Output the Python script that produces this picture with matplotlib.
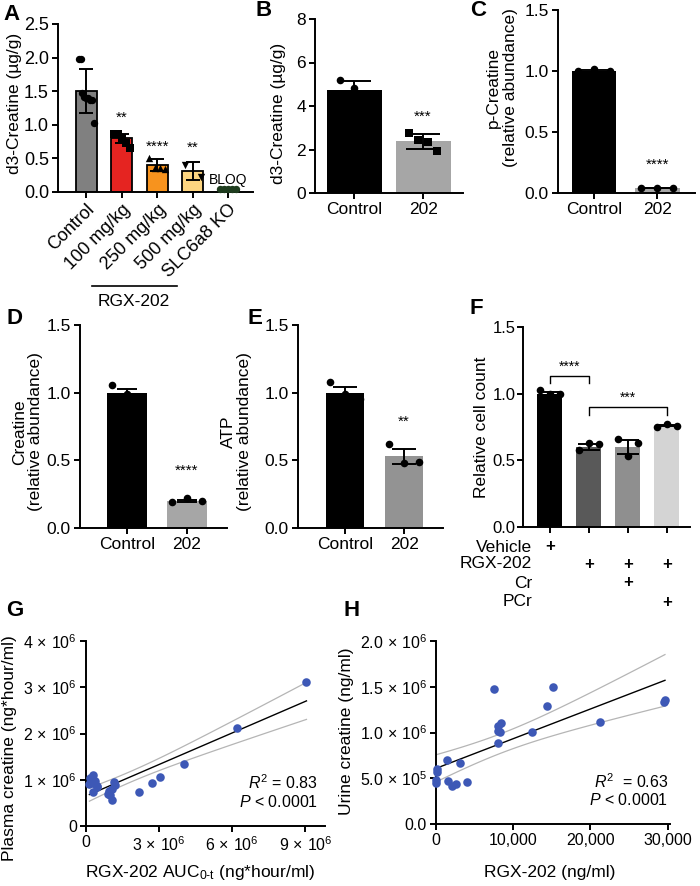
import numpy as np
import matplotlib
matplotlib.use("Agg")
import matplotlib.pyplot as plt
from matplotlib.transforms import blended_transform_factory

plt.rcParams['font.family'] = ['Liberation Sans', 'DejaVu Sans']
plt.rcParams['mathtext.fontset'] = 'custom'
plt.rcParams['mathtext.rm'] = 'Liberation Sans'
plt.rcParams['mathtext.it'] = 'Liberation Sans:italic'
plt.rcParams['mathtext.bf'] = 'Liberation Sans:bold'
plt.rcParams['axes.linewidth'] = 1.4

# ---------------- data ----------------
a_cats = ['Control', '100 mg/kg', '250 mg/kg', '500 mg/kg', 'SLC6a8 KO']
a_means = [1.50, 0.80, 0.40, 0.31, 0.03]
a_sd = [0.33, 0.07, 0.09, 0.13, 0.0]
a_points = [[1.98, 1.98, 1.47, 1.41, 1.40, 1.40, 1.37, 1.37, 1.02],
            [0.87, 0.86, 0.80, 0.73, 0.66],
            [0.51, 0.36, 0.35, 0.34],
            [0.40, 0.22],
            [0.05, 0.05, 0.05, 0.05, 0.05]]
a_stars = ['', '**', '****', '**', '']
a_star_y = [0, 1.10, 0.68, 0.66, 0]

b_cats = ['Control', '202']
b_means = [4.75, 2.38]
b_sd = [0.40, 0.34]
b_points = [[5.18, 4.85, 4.22], [2.75, 2.45, 2.35, 1.95]]
b_stars = ['', '***']
b_star_y = [0, 3.5]

c_cats = ['Control', '202']
c_means = [1.0, 0.04]
c_err = [0.01, 0.0]
c_points = [[1.0, 1.02, 1.0], [0.04, 0.04, 0.04]]
c_stars = ['', '****']
c_star_y = [0, 0.23]

d_cats = ['Control', '202']
d_means = [1.0, 0.20]
d_err = [0.03, 0.01]
d_points = [[1.06, 0.99, 0.96], [0.19, 0.22, 0.20]]
d_stars = ['', '****']
d_star_y = [0, 0.42]

e_cats = ['Control', '202']
e_means = [1.0, 0.53]
e_err = [0.045, 0.055]
e_points = [[1.08, 0.99, 0.95], [0.62, 0.48, 0.49]]
e_stars = ['', '**']
e_star_y = [0, 0.785]

f_means = [1.0, 0.60, 0.60, 0.76]
f_err = [0.01, 0.02, 0.05, 0.005]
f_points = [[1.03, 1.0, 1.0], [0.58, 0.63, 0.62], [0.66, 0.53, 0.63], [0.75, 0.77, 0.76]]
f_rows = ['Vehicle', 'RGX-202', 'Cr', 'PCr']
f_flags = [[1, 0, 0, 0], [0, 1, 1, 1], [0, 0, 1, 0], [0, 0, 0, 1]]

g_x = np.array([0.30, 0.16, 0.37, 0.14, 0.27, 0.44, 0.30, 0.47, 1.15, 1.19, 1.05,
                0.96, 0.92, 0.99, 1.08, 2.17, 2.71, 3.05, 4.03, 6.19, 9.04]) * 1e6
g_y = np.array([1.10, 1.03, 0.98, 0.91, 0.93, 0.86, 0.73, 0.85, 0.96, 0.89, 0.81,
                0.76, 0.70, 0.67, 0.57, 0.73, 0.94, 1.06, 1.33, 2.11, 3.11]) * 1e6

h_x = np.array([7540, 15170, 14310, 29650, 29570, 21240, 12370, 8400, 8060, 7980, 8280,
                8060, 1380, 3100, 170, 90, 0, 0, 1590, 2030, 2550, 4050], dtype=float)
h_y = np.array([1.47, 1.50, 1.295, 1.357, 1.335, 1.116, 1.006, 1.105, 1.068, 1.02, 1.002,
                0.886, 0.695, 0.666, 0.60, 0.563, 0.483, 0.447, 0.472, 0.417, 0.436, 0.458]) * 1e6

# ---------------- layout helpers ----------------
W, H = 700, 886
fig = plt.figure(figsize=(7, 8.86), dpi=100)


def ax_at(l, r, t, b):
    return fig.add_axes([l / W, 1 - b / H, (r - l) / W, (b - t) / H])


def ftext(x, y, s, **kw):
    return fig.text(x / W, 1 - y / H, s, **kw)


def style(ax, ls=12):
    for s in ['top', 'right']:
        ax.spines[s].set_visible(False)
    ax.tick_params(direction='out', length=4.5, width=1.4, labelsize=ls, pad=2)


def bar_panel(ax, means, errs, points, colors, width, markers, capsize,
              edge=None, edgelw=0, spread=0.2, ms=30, ptcolors=None, stars=None,
              star_y=None, star_fs=11):
    x = np.arange(len(means))
    ax.bar(x, means, width=width, color=colors,
           edgecolor=edge if edge else colors, linewidth=edgelw, zorder=1)
    ax.errorbar(x, means, yerr=errs, fmt='none', ecolor='black', elinewidth=1.4,
                capsize=capsize, capthick=1.4, zorder=2)
    for i, pts in enumerate(points):
        n = len(pts)
        off = np.linspace(-spread, spread, n) if n > 1 else np.array([0.0])
        pc = ptcolors[i] if ptcolors else 'black'
        ax.scatter(x[i] + off, pts, s=ms, marker=markers[i], c=pc, zorder=3,
                   clip_on=False, linewidths=0)
    if stars:
        for i, st in enumerate(stars):
            if st:
                ax.text(x[i], star_y[i], st, ha='center', va='center', fontsize=star_fs)
    ax.set_xticks(x)


def sci(m, e):
    return r'$%s\,\times\,10^{%d}$' % (m, e)


# ---------------- Panel A ----------------
axA = ax_at(58, 253, 24, 192)
style(axA, ls=13)
bar_panel(axA, a_means, a_sd, a_points,
          ['#808080', '#e52421', '#f7931e', '#fdd580', '#3a6b35'], 0.6,
          ['o', 's', '^', 'v', 'o'], 5, edge='black', edgelw=1.3, spread=0.22,
          ms=28, ptcolors=['black', 'black', 'black', 'black', '#1f3d1f'],
          stars=a_stars, star_y=a_star_y)
axA.set_xlim(-0.8, 4.7)
axA.set_ylim(0, 2.5)
axA.set_yticks([0, 0.5, 1.0, 1.5, 2.0, 2.5])
axA.set_yticklabels(['0.0', '0.5', '1.0', '1.5', '2.0', '2.5'])
axA.set_xticklabels(a_cats, rotation=45, ha='right', rotation_mode='anchor')
axA.text(4, 0.18, 'BLOQ', ha='center', va='center', fontsize=10)
ftext(15, 103, 'd3-Creatine (\u00b5g/g)', rotation=90, ha='center', va='center', fontsize=12.5)
fig.add_artist(plt.Line2D([92 / W, 177 / W], [1 - 286 / H, 1 - 286 / H], color='black', lw=1.2))
ftext(134, 302, 'RGX-202', ha='center', va='center', fontsize=12.5)
ftext(12, 14, 'A', ha='center', va='center', fontsize=16, fontweight='bold')

# ---------------- Panel B ----------------
axB = ax_at(315, 463, 19, 193)
style(axB, ls=12.5)
bar_panel(axB, b_means, b_sd, b_points, ['black', '#a6a6a6'], 0.8, ['o', 's'], 12,
          spread=0.2, stars=b_stars, star_y=b_star_y)
axB.set_xlim(-0.57, 1.58)
axB.set_ylim(0, 8)
axB.set_yticks([0, 2, 4, 6, 8])
axB.set_xticklabels(b_cats)
ftext(278, 113, 'd3-Creatine (\u00b5g/g)', rotation=90, ha='center', va='center', fontsize=12.5)
ftext(264, 11, 'B', ha='center', va='center', fontsize=16, fontweight='bold')

# ---------------- Panel C ----------------
axC = ax_at(558, 695, 10, 193)
style(axC, ls=12.5)
bar_panel(axC, c_means, c_err, c_points, ['black', '#a6a6a6'], 0.71, ['o', 'o'], 10,
          spread=0.25, stars=c_stars, star_y=c_star_y)
axC.set_xlim(-0.57, 1.6)
axC.set_ylim(0, 1.5)
axC.set_yticks([0, 0.5, 1.0, 1.5])
axC.set_yticklabels(['0.0', '0.5', '1.0', '1.5'])
axC.set_xticklabels(c_cats)
ftext(502, 88, 'p-Creatine\n(relative abundance)', rotation=90, ha='center', va='center',
      fontsize=12.5, linespacing=1.1)
ftext(478, 11, 'C', ha='center', va='center', fontsize=16, fontweight='bold')

# ---------------- Panel D ----------------
axD = ax_at(80, 227, 325, 528)
style(axD, ls=12.5)
bar_panel(axD, d_means, d_err, d_points, ['black', '#a6a6a6'], 0.67, ['o', 'o'], 7.5,
          spread=0.25, stars=d_stars, star_y=d_star_y)
axD.set_xlim(-0.78, 1.67)
axD.set_ylim(0, 1.5)
axD.set_yticks([0, 0.5, 1.0, 1.5])
axD.set_yticklabels(['0.0', '0.5', '1.0', '1.5'])
axD.set_xticklabels(d_cats)
ftext(27.5, 432, 'Creatine\n(relative abundance)', rotation=90, ha='center', va='center',
      fontsize=12.5, linespacing=1.1)
ftext(14, 318, 'D', ha='center', va='center', fontsize=16, fontweight='bold')

# ---------------- Panel E ----------------
axE = ax_at(298, 443, 325, 528)
style(axE, ls=12.5)
bar_panel(axE, e_means, e_err, e_points, ['black', '#939393'], 0.64, ['o', 'o'], 8.5,
          spread=0.25, stars=e_stars, star_y=e_star_y)
axE.set_xlim(-0.8, 1.66)
axE.set_ylim(0, 1.5)
axE.set_yticks([0, 0.5, 1.0, 1.5])
axE.set_yticklabels(['0.0', '0.5', '1.0', '1.5'])
axE.set_xticklabels(e_cats)
ftext(236.5, 432, 'ATP\n(relative abundance)', rotation=90, ha='center', va='center',
      fontsize=12.5, linespacing=1.1)
ftext(255, 318, 'E', ha='center', va='center', fontsize=16, fontweight='bold')

# ---------------- Panel F ----------------
axF = ax_at(523, 690, 327, 527)
style(axF, ls=12)
axF.tick_params(axis='y', length=4, pad=1.5)
bar_panel(axF, f_means, f_err, f_points, ['black', '#595959', '#8f8f8f', '#d4d4d4'], 0.64,
          ['o', 'o', 'o', 'o'], 8, spread=0.25)
axF.set_xlim(-0.69, 3.59)
axF.set_ylim(0, 1.5)
axF.set_yticks([0, 0.5, 1.0, 1.5])
axF.set_yticklabels(['0.0', '0.5', '1.0', '1.5'])
axF.set_xticklabels([])
# brackets
axF.plot([0, 0, 1, 1], [1.08, 1.135, 1.135, 1.08], color='black', lw=1.0, clip_on=False)
axF.text(0.5, 1.2, '****', ha='center', va='center', fontsize=10)
axF.plot([1, 1, 3, 3], [0.84, 0.90, 0.90, 0.84], color='black', lw=1.0, clip_on=False)
axF.text(2.0, 0.97, '***', ha='center', va='center', fontsize=10)
trF = blended_transform_factory(axF.transData, fig.transFigure)
row_y = [547, 564, 583, 602]
for r, (lab, flags) in enumerate(zip(f_rows, f_flags)):
    ftext(532, row_y[r], lab, ha='right', va='center', fontsize=12.5)
    for j, fl in enumerate(flags):
        if fl:
            axF.text(j, 1 - row_y[r] / H, '+', transform=trF, ha='center', va='center',
                     fontsize=12, fontweight='bold')
ftext(476, 309, 'F', ha='center', va='center', fontsize=16, fontweight='bold')
ftext(482, 427, 'Relative cell count', rotation=90, ha='center', va='center', fontsize=12.5)


# ---------------- regression helper ----------------
def fit_band(x, y):
    n = len(x)
    b, a = np.polyfit(x, y, 1)
    xs = np.linspace(x.min(), x.max(), 100)
    yhat = a + b * xs
    s = np.sqrt(np.sum((y - (a + b * x)) ** 2) / (n - 2))
    se = s * np.sqrt(1 / n + (xs - x.mean()) ** 2 / np.sum((x - x.mean()) ** 2))
    t = 2.09
    return xs, yhat, yhat - t * se, yhat + t * se


blue = '#3d58b6'

# ---------------- Panel G ----------------
axG = ax_at(86, 325, 641, 826)
style(axG, ls=11.5)
xs, yh, lo, hi = fit_band(g_x, g_y)
axG.plot(xs, lo, color='#b5b5b5', lw=0.9, zorder=1)
axG.plot(xs, hi, color='#b5b5b5', lw=0.9, zorder=1)
axG.plot(xs, yh, color='black', lw=1.0, zorder=2)
axG.scatter(g_x, g_y, s=38, c=blue, linewidths=0, zorder=3, clip_on=False)
axG.set_xlim(0, 9.8e6)
axG.set_ylim(0, 4e6)
axG.set_xticks([0, 3e6, 6e6, 9e6])
axG.set_xticklabels(['0', sci(3, 6), sci(6, 6), sci(9, 6)])
axG.set_yticks([0, 1e6, 2e6, 3e6, 4e6])
axG.set_yticklabels(['0', sci(1, 6), sci(2, 6), sci(3, 6), sci(4, 6)])
ftext(318, 783, r'$R^2$ = 0.83', ha='right', va='center', fontsize=11.5)
ftext(318, 802, r'$P$ < 0.0001', ha='right', va='center', fontsize=11.5)
ftext(10, 748, 'Plasma creatine (ng*hour/ml)', rotation=90, ha='center', va='center', fontsize=12.5)
ftext(200, 872, r'RGX-202 AUC$_{\mathregular{0\text{-}t}}$ (ng*hour/ml)', ha='center', va='center', fontsize=12.5)
ftext(15, 610, 'G', ha='center', va='center', fontsize=16, fontweight='bold')

# ---------------- Panel H ----------------
axH = ax_at(436, 670, 641, 824)
style(axH, ls=11.5)
xs, yh, lo, hi = fit_band(h_x, h_y)
axH.plot(xs, lo, color='#b5b5b5', lw=0.9, zorder=1)
axH.plot(xs, hi, color='#b5b5b5', lw=0.9, zorder=1)
axH.plot(xs, yh, color='black', lw=1.0, zorder=2)
axH.scatter(h_x, h_y, s=38, c=blue, linewidths=0, zorder=3, clip_on=False)
axH.set_xlim(0, 30300)
axH.set_ylim(0, 2.0e6)
axH.set_xticks([0, 10000, 20000, 30000])
axH.set_xticklabels(['0', '10,000', '20,000', '30,000'])
axH.set_yticks([0, 0.5e6, 1.0e6, 1.5e6, 2.0e6])
axH.set_yticklabels(['0.0', sci('5.0', 5), sci('1.0', 6), sci('1.5', 6), sci('2.0', 6)])
ftext(668, 782, r'$R^2$  = 0.63', ha='right', va='center', fontsize=11.5)
ftext(668, 800, r'$P$ < 0.0001', ha='right', va='center', fontsize=11.5)
ftext(347, 731, 'Urine creatine (ng/ml)', rotation=90, ha='center', va='center', fontsize=12.5)
ftext(550, 872, 'RGX-202 (ng/ml)', ha='center', va='center', fontsize=12.5)
ftext(352, 610, 'H', ha='center', va='center', fontsize=16, fontweight='bold')

fig.savefig('out.png', dpi=100)
